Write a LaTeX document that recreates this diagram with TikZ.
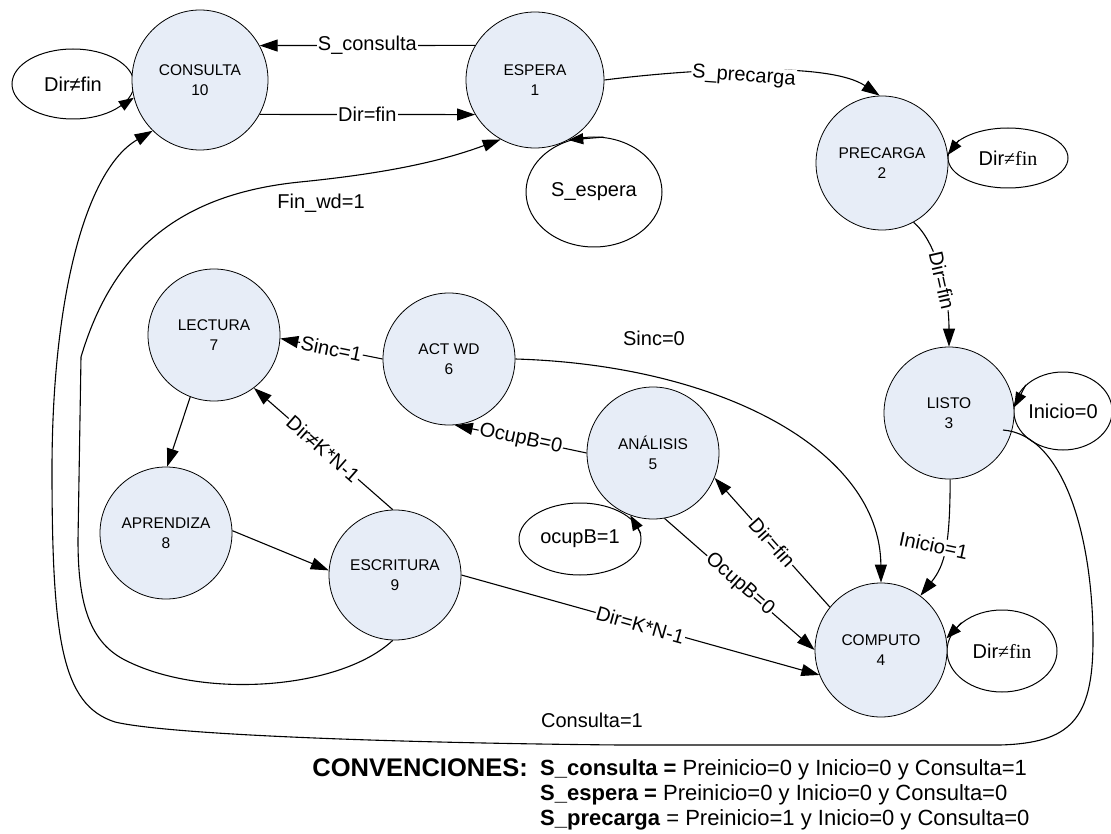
\documentclass[tikz,border=0pt]{standalone}
\usepackage{fontspec}
\setmainfont{Liberation Sans}
\newfontfamily\serifrm{Liberation Serif}
\usetikzlibrary{shapes.geometric, arrows.meta}

\definecolor{statefill}{RGB}{231,237,247}

\begin{document}
\begin{tikzpicture}[x=1pt, y=-1pt,
  state/.style={ellipse, draw=black, line width=0.8pt, fill=statefill, inner sep=0pt,
    align=center, font=\fontsize{15.5}{19.5}\selectfont},
  loopnode/.style={ellipse, draw=black, line width=1pt, inner sep=0pt,
    font=\fontsize{20}{24}\selectfont},
  arr/.style={line width=1.1pt, -{Triangle[length=18pt,width=12pt]}},
  arrs/.style={line width=1.1pt, -{Triangle[length=15pt,width=11pt]}},
  lbl/.style={fill=white, inner sep=1pt, font=\fontsize{20}{24}\selectfont},
  freelbl/.style={inner sep=0pt, font=\fontsize{20}{24}\selectfont},
  legend/.style={inner sep=0pt, font=\fontsize{22}{26}\selectfont},
]
\useasboundingbox (0,0) rectangle (1111,834);

% self-loop conditions
\node[loopnode, minimum width=122pt, minimum height=70pt] (lc)   at (73,84)    {Dir≠fin};
\node[loopnode, minimum width=136pt, minimum height=110pt] (lesp) at (594,192) {S\_espera};
\node[loopnode, minimum width=120pt, minimum height=60pt] (lpre) at (1008,158)  {Dir{\serifrm ≠fin}};
\node[loopnode, minimum width=94pt,  minimum height=78pt] (llis) at (1063,411)  {Inicio=0};
\node[loopnode, minimum width=110pt, minimum height=82pt] (lcom) at (1002,651)  {Dir{\serifrm ≠fin}};
\node[loopnode, minimum width=122pt, minimum height=72pt] (lana) at (580,539)   {ocupB=1};

% states
\node[state, minimum width=136pt, minimum height=140pt] (consulta)  at (200,80)  {CONSULTA\\10};
\node[state, minimum width=138pt, minimum height=136pt] (espera)    at (535,80)  {ESPERA\\1};
\node[state, minimum width=132pt, minimum height=134pt] (precarga)  at (882,163) {PRECARGA\\2};
\node[state, minimum width=130pt, minimum height=132pt] (listo)     at (949,413) {LISTO\\3};
\node[state, minimum width=132pt, minimum height=134pt] (computo)   at (881,650) {COMPUTO\\4};
\node[state, minimum width=132pt, minimum height=132pt] (analisis)  at (653,453) {ANÁLISIS\\5};
\node[state, minimum width=132pt, minimum height=132pt] (actwd)     at (449,359) {ACT WD\\6};
\node[state, minimum width=132pt, minimum height=132pt] (lectura)   at (214,335) {LECTURA\\7};
\node[state, minimum width=132pt, minimum height=132pt] (aprendiza) at (166,533) {APRENDIZA\\8};
\node[state, minimum width=132pt, minimum height=130pt] (escritura) at (395,575) {ESCRITURA\\9};

\coordinate (cstart) at (1003,430);

% loop arrowheads
\draw[arrs] (lc.-25)   -- (consulta.195);
\draw[arrs] (lesp.80)  -- (espera.-61);
\draw[arrs] (lpre.160) -- (precarga.7);
\draw[arrs] (llis.145) -- (listo.5);
\draw[arrs] (lcom.145) -- (computo.10);
\draw[arrs] (lana.5)   -- (analisis.-110);

% transitions
\draw[arr] (espera.150) -- node[lbl] {S\_consulta} (consulta.30);
\draw[arr] (consulta.-30) -- node[lbl] {Dir=fin} (espera.-150);
\draw[arr] (espera.0) .. controls (700,68) and (830,62) .. (precarga.92)
  node[lbl, pos=0.45, yshift=-6pt, rotate=-4] {S\_precarga};
\draw[arr] (precarga.-62) .. controls (935,240) and (949,290) .. (listo.90)
  node[lbl, pos=0.58, sloped] {Dir=fin};
\draw[arr] (listo.-89) .. controls (950,545) and (945,565) .. (computo.54)
  node[lbl, pos=0.45, xshift=-12pt, rotate=-12] {Inicio=1};
\draw[arr] (actwd.0) .. controls (720,365) and (880,450) .. (computo.90);
\draw[arr] (actwd.180) -- node[lbl, sloped] {Sinc=1} (lectura.-3);
\draw[arr] (analisis.180) -- node[lbl, sloped] {OcupB=0} (actwd.-85);
\draw[arr] (escritura.92) -- node[lbl, sloped] {Dir≠K*N-1} (lectura.-53);
\draw[arr] (lectura.-111) -- (aprendiza.89);
\draw[arr] (aprendiza.2) -- (escritura.176);
\draw[arr] (escritura.0) -- node[lbl, sloped] {Dir=K*N-1} (computo.202);
\draw[arr] (analisis.-80) -- node[lbl, sloped] {OcupB=0} (computo.180);
\draw[arr] (computo.140) -- node[lbl, sloped] {Dir=fin} (analisis.-22);
\draw[arr] (escritura.-92) .. controls (340,690) and (200,700) .. (123,659)
  .. controls (88,640) and (78,600) .. (78,540) -- (81,357)
  .. controls (110,260) and (170,195) .. (300,182)
  .. controls (400,172) and (450,158) .. (espera.240);
\draw[arr] (cstart) .. controls (1065,435) and (1093,540) .. (1093,640)
  .. controls (1093,720) and (1070,743) .. (1000,745) -- (620,745)
  .. controls (400,743) and (170,735) .. (115,722)
  .. controls (62,705) and (52,640) .. (52,470)
  .. controls (52,300) and (85,170) .. (consulta.227);

% free-standing conditions
\node[freelbl] (sinc0) at (654,338) {Sinc=0};
\node[freelbl] (finwd) at (321,203) {Fin\_wd=1};
\node[freelbl] (cons1) at (592,720) {Consulta=1};

% conventions
\node[anchor=base east, inner sep=0pt, font=\bfseries\fontsize{25.5}{29}\selectfont] (conv) at (528,776) {CONVENCIONES:};
\node[legend, anchor=base west] (leg1) at (540,775) {\textbf{S\_consulta =} Preinicio=0 y Inicio=0 y Consulta=1};
\node[legend, anchor=base west] (leg2) at (540,800) {\textbf{S\_espera =} Preinicio=0 y Inicio=0 y Consulta=0};
\node[legend, anchor=base west] (leg3) at (540,825) {\textbf{S\_precarga} = Preinicio=1 y Inicio=0 y Consulta=0};
\end{tikzpicture}
\end{document}
